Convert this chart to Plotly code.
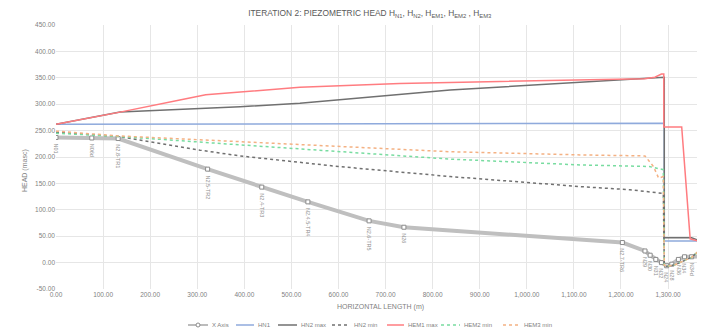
import plotly.graph_objects as go

# ---- data ----
terrain_x = [0, 76, 132, 322, 437, 535, 665, 739, 1203, 1251, 1262, 1274, 1286, 1297, 1308, 1322, 1335, 1350, 1368]
terrain_y = [237, 236, 235, 177, 143, 115, 79, 67, 38, 22, 14, 6, 0, -6, -3, 6, 11, 11, 12]
terrain_labels = ["N01", "N06d", "N2.8-TR1", "N2.5-TR2", "N2.4-TR3", "N2.4.5-TR4", "N2.6-TR5", "N26",
                  "N2.7-TR6", "N29", "N30", "N31", "N32", "N24", "N28", "N36", "N34", "N34d", "N39"]

hn1_x = [0, 1292, 1292, 1368]
hn1_y = [262, 264, 41, 41]

hn2max_x = [0, 136, 391, 518, 837, 1240, 1286, 1292, 1292, 1350, 1368]
hn2max_y = [262, 285, 295, 302, 327, 348, 351, 351, 47, 47, 41]

hn2min_x = [0, 132, 306, 391, 600, 837, 1113, 1219, 1290, 1292, 1297, 1315, 1335, 1350, 1368]
hn2min_y = [247, 239, 213, 202, 182, 163, 144, 138, 131, -5, -7, -4, 4, 10, 24]

hem1max_x = [0, 136, 263, 318, 518, 730, 943, 1113, 1250, 1272, 1286, 1291, 1291, 1329, 1347, 1368]
hem1max_y = [262, 285, 308, 318, 332, 339, 343, 345, 348, 351, 357, 357, 257, 257, 45, 40]

hem2min_x = [0, 132, 391, 837, 1113, 1260, 1290, 1292, 1297, 1315, 1335, 1350, 1368]
hem2min_y = [245, 239, 223, 196, 185, 182, 176, -5, -7, -4, 4, 10, 24]

hem3min_x = [0, 132, 391, 837, 1113, 1251, 1269, 1280, 1290, 1292, 1297, 1315, 1335, 1350, 1368]
hem3min_y = [249, 240, 229, 210, 204, 202, 182, 160, 163, -5, -7, -4, 4, 10, 24]

x_ticks = list(range(0, 1401, 100))
y_ticks = list(range(-50, 451, 50))

FONT = "Liberation Sans"
GREY = "#7f7f7f"

# series styles: name, x, y, colour, width, dash
series = [
    ("HN1", hn1_x, hn1_y, "#8faadc", 1.5, None),
    ("HN2 max", hn2max_x, hn2max_y, "#707070", 1.5, None),
    ("HN2 min", hn2min_x, hn2min_y, "#707070", 1.5, "3px,3px"),
    ("HEM1 max", hem1max_x, hem1max_y, "#ff7c80", 1.5, None),
    ("HEM2 min", hem2min_x, hem2min_y, "#78dca0", 1.5, "3px,3px"),
    ("HEM3 min", hem3min_x, hem3min_y, "#f4b183", 1.5, "3px,3px"),
]

fig = go.Figure()
fig.add_trace(go.Scatter(x=terrain_x, y=terrain_y, name="X Axis", mode="lines+markers",
                         showlegend=False,
                         line=dict(color="#bfbfbf", width=4),
                         marker=dict(symbol="square", size=4, color="white",
                                     line=dict(color="#8c8c8c", width=1))))
for name, xs, ys, col, w, dash in series:
    ln = dict(color=col, width=w)
    if dash:
        ln["dash"] = dash
    fig.add_trace(go.Scatter(x=xs, y=ys, name=name, mode="lines", line=ln, showlegend=False))

annotations = []
shapes = []
for xv, yv, lab in zip(terrain_x, terrain_y, terrain_labels):
    annotations.append(dict(x=xv, y=yv, xref="x", yref="y", text=lab, showarrow=False,
                            textangle=90, xanchor="center", yanchor="top", yshift=-4,
                            font=dict(family=FONT, size=5.5, color="#8c8c8c")))
annotations.append(dict(x=0.50, y=-0.068, xref="paper", yref="paper", text="HORIZONTAL LENGTH (m)",
                        showarrow=False, xanchor="center", yanchor="middle",
                        font=dict(family=FONT, size=7, color=GREY)))
annotations.append(dict(x=-0.048, y=0.45, xref="paper", yref="paper", text="HEAD (masc)",
                        showarrow=False, textangle=-90, xanchor="center", yanchor="middle",
                        font=dict(family=FONT, size=7, color=GREY)))

# ---- compact legend (symbol + label) below the axis ----
PLOT_L, PLOT_W, PLOT_B, PLOT_H = 56, 649, 289, 264   # page pixels of plot area


def px(p):
    return (p - PLOT_L) / PLOT_W


LEG_Y = (PLOT_B - 325) / PLOT_H
legend_items = [
    ("X Axis", 188, 208, "#a6a6a6", 1.5, None),
    ("HN1", 236, 254, "#8faadc", 1.5, None),
    ("HN2 max", 278, 297, "#707070", 1.5, None),
    ("HN2 min", 332, 350, "#707070", 1.5, "dot"),
    ("HEM1 max", 387, 404, "#ff7c80", 1.5, None),
    ("HEM2 min", 441, 460, "#78dca0", 1.5, "dot"),
    ("HEM3 min", 503, 520, "#f4b183", 1.5, "dot"),
]
for name, a, b, col, w, dash in legend_items:
    ln = dict(color=col, width=w)
    if dash:
        ln["dash"] = dash
    shapes.append(dict(type="line", xref="paper", yref="paper", x0=px(a), x1=px(b),
                       y0=LEG_Y, y1=LEG_Y, line=ln))
    if name == "X Axis":
        c = (a + b) / 2
        shapes.append(dict(type="circle", xref="paper", yref="paper",
                           x0=px(c - 2), x1=px(c + 2), y0=LEG_Y - 2 / PLOT_H, y1=LEG_Y + 2 / PLOT_H,
                           line=dict(color="#8c8c8c", width=1), fillcolor="white"))
    annotations.append(dict(x=px(b + 2), y=LEG_Y, xref="paper", yref="paper", text=name,
                            showarrow=False, xanchor="left", yanchor="middle",
                            font=dict(family=FONT, size=6, color=GREY)))

# page body has an 8px margin, so the figure is drawn 8px smaller and offset
fig.update_layout(
    width=697, height=325,
    margin=dict(l=48, r=0, t=17, b=44, autoexpand=False),
    paper_bgcolor="white", plot_bgcolor="white",
    title=dict(text="ITERATION 2: PIEZOMETRIC HEAD H<sub>N1</sub>, H<sub>N2</sub>, H<sub>EM1</sub>, H<sub>EM2</sub> , H<sub>EM3</sub>",
               x=0.519, xanchor="center", y=0.985, yanchor="middle",
               font=dict(family=FONT, size=8.4, color="#595959")),
    xaxis=dict(range=[0, 1378.5], tickvals=x_ticks, ticktext=[f"{v:,.2f}" for v in x_ticks],
               showgrid=True, gridcolor="#e6e6e6", gridwidth=1, zeroline=False, showline=False,
               ticks="", tickfont=dict(family=FONT, size=6.5, color=GREY)),
    yaxis=dict(range=[-50, 450], tickvals=y_ticks, ticktext=[f"{v:.2f}" for v in y_ticks],
               showgrid=True, gridcolor="#e6e6e6", gridwidth=1, zeroline=False, showline=False,
               ticks="", tickfont=dict(family=FONT, size=6.5, color=GREY)),
    showlegend=False,
    annotations=annotations,
    shapes=shapes,
)

fig.write_html("out.html")
